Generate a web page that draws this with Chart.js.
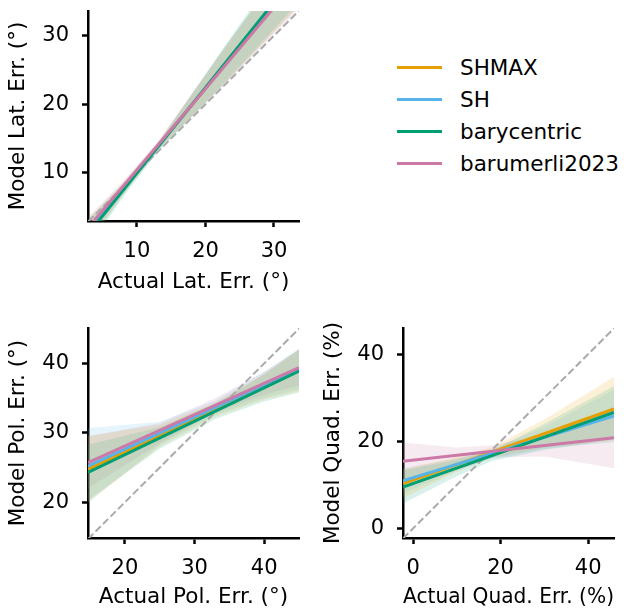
<!DOCTYPE html>
<html>
<head>
<meta charset="utf-8">
<title>Model vs actual localisation error</title>
<script src="https://cdn.jsdelivr.net/npm/chart.js@4.4.0/dist/chart.umd.min.js"></script>
<style>
  body { margin: 0; background: #fff; }
  #wrap { position: relative; width: 624px; height: 608px; overflow: hidden; font-family: "DejaVu Sans", sans-serif; }
  canvas { position: absolute; }
  #legend { position: absolute; left: 397px; top: 51px; }
  .row { display: flex; align-items: center; height: 32px; font-size: 21.5px; color: #000; white-space: nowrap; }
  .swatch { width: 45px; height: 3px; margin-right: 18px; }
</style>
</head>
<body>
<div id="wrap">
  <canvas id="lat" width="310" height="300" style="left:0;top:0"></canvas>
  <canvas id="pol" width="310" height="308" style="left:0;top:300px"></canvas>
  <canvas id="quad" width="314" height="308" style="left:310px;top:300px"></canvas>
  <div id="legend"></div>
</div>
<script>
const seriesNames = ["SHMAX", "SH", "barycentric", "barumerli2023"];
const seriesColors = ["#E69F00", "#56B4E9", "#009E73", "#CC79A7"];
const bandColors = ["rgba(230,159,0,0.15)", "rgba(86,180,233,0.15)", "rgba(0,158,115,0.15)", "rgba(204,121,167,0.15)"];

// lateral error: fitted lines and confidence bands, one row per series
const latLineX = [2.9, 33.7];
const latLineY = [[1.65, 38.8], [1.5, 39.0], [1.1, 39.5], [2.0, 38.5]];
const latBandX = [3, 8, 13, 23, 33.7];
const latBandLow = [
  [-0.1, 6.8, 13.15, 23.2, 34.3],
  [-0.3, 6.7, 13.1, 23.2, 34.5],
  [-0.8, 6.5, 13.0, 23.4, 35.0],
  [0.3, 7.0, 13.3, 23.1, 34.0]
];
const latBandHigh = [
  [3.4, 8.6, 14.35, 28.5, 43.3],
  [3.3, 8.5, 14.3, 28.6, 43.5],
  [3.0, 8.3, 14.2, 28.8, 44.0],
  [3.7, 8.8, 14.5, 28.5, 43.0]
];
const latTicks = [10, 20, 30];

// polar error
const polLineX = [14.7, 45];
const polLineY = [[24.75, 39.0], [25.2, 39.2], [24.3, 38.9], [25.7, 39.4]];
const polBandX = [14.7, 25, 33, 40, 45];
const polBandLow = [
  [20.0, 28.0, 32.3, 34.8, 36.0],
  [19.9, 28.3, 32.6, 35.0, 36.3],
  [20.3, 27.7, 32.0, 34.5, 35.8],
  [22.0, 28.5, 33.0, 35.5, 36.8]
];
const polBandHigh = [
  [29.5, 31.2, 34.4, 38.5, 42.0],
  [30.7, 31.6, 34.7, 38.8, 42.2],
  [28.3, 30.8, 34.2, 38.4, 42.0],
  [29.5, 31.4, 35.0, 38.8, 42.0]
];
const polTicks = [20, 30, 40];

// quadrant error
const quadLineX = [-2.3, 45.9];
const quadLineY = [[10.3, 27.4], [10.9, 25.8], [9.5, 26.6], [15.4, 20.8]];
const quadBandX = [-2.3, 10, 18, 30, 45.9];
const quadBandLow = [
  [7.0, 13.0, 16.3, 18.5, 20.0],
  [8.0, 13.3, 16.0, 18.3, 19.8],
  [5.7, 12.0, 15.5, 18.0, 20.4],
  [11.0, 15.0, 16.3, 16.5, 13.8]
];
const quadBandHigh = [
  [13.6, 16.4, 18.7, 25.0, 34.8],
  [13.8, 16.1, 18.2, 23.3, 31.8],
  [13.3, 15.8, 17.9, 24.0, 32.7],
  [19.7, 18.6, 19.1, 21.5, 27.8]
];
const quadTicks = [0, 20, 40];

const FONT = "DejaVu Sans";

const toPoints = (xs, ys) => xs.map((x, i) => ({ x, y: ys[i] }));

function buildDatasets(lineX, lineY, bandX, bandLow, bandHigh, lo, hi) {
  const sets = [];
  seriesNames.forEach((name, i) => {
    sets.push({
      data: toPoints(bandX, bandLow[i]),
      borderWidth: 0, pointRadius: 0, fill: false, order: 20, clip: 0
    });
    sets.push({
      data: toPoints(bandX, bandHigh[i]),
      borderWidth: 0, pointRadius: 0, fill: sets.length - 1,
      backgroundColor: bandColors[i], order: 20, clip: 0
    });
  });
  // identity line
  sets.push({
    data: [{ x: lo, y: lo }, { x: hi, y: hi }],
    borderColor: "#aaaaaa", borderWidth: 2, borderDash: [7.4, 3.2],
    pointRadius: 0, fill: false, order: 10, clip: 0
  });
  seriesNames.forEach((name, i) => {
    sets.push({
      label: name,
      data: toPoints(lineX, lineY[i]),
      borderColor: seriesColors[i], borderWidth: 3,
      pointRadius: 0, fill: false, order: 4 - i, clip: 0
    });
  });
  return sets;
}

function axis(opts) {
  const horizontal = opts.pos === "bottom";
  return {
    type: "linear",
    position: opts.pos,
    min: opts.min,
    max: opts.max,
    afterBuildTicks: a => { a.ticks = opts.ticks.map(v => ({ value: v })); },
    afterFit: s => {
      if (horizontal) s.height = opts.size; else s.width = opts.size;
      s.paddingLeft = 0; s.paddingRight = 0; s.paddingTop = 0; s.paddingBottom = 0;
    },
    border: { display: true, color: "#000", width: 2.5 },
    grid: { drawOnChartArea: false, drawTicks: true, tickLength: 6, tickWidth: 2.5, tickColor: "#000" },
    ticks: { color: "#000", font: { family: FONT, size: 21 }, padding: horizontal ? 12 : 13, maxRotation: 0, autoSkip: false },
    title: {
      display: true, text: opts.title, color: "#000",
      font: { family: FONT, size: 21.5, lineHeight: 1 },
      padding: horizontal ? { top: 0, bottom: opts.titlePad } : { top: opts.titlePad, bottom: 0 }
    }
  };
}

function makePanel(id, p) {
  return new Chart(document.getElementById(id), {
    type: "line",
    data: { datasets: buildDatasets(p.lineX, p.lineY, p.bandX, p.bandLow, p.bandHigh, p.min, p.max) },
    options: {
      responsive: false,
      animation: false,
      devicePixelRatio: 1,
      layout: { padding: p.padding },
      plugins: { legend: { display: false }, tooltip: { enabled: false } },
      scales: {
        x: axis({ pos: "bottom", min: p.xMin, max: p.xMax, ticks: p.ticks, size: p.xSize, title: p.xTitle, titlePad: p.xTitlePad }),
        y: axis({ pos: "left", min: p.yMin, max: p.yMax, ticks: p.ticks, size: p.ySize, title: p.yTitle, titlePad: p.yTitlePad })
      }
    }
  });
}

makePanel("lat", {
  lineX: latLineX, lineY: latLineY, bandX: latBandX, bandLow: latBandLow, bandHigh: latBandHigh,
  min: 2.9, max: 33.7, xMin: 2.85, xMax: 33.65, yMin: 2.95, yMax: 33.6, ticks: latTicks,
  padding: { left: 0, top: 11, right: 11, bottom: 0 }, xSize: 79, ySize: 88,
  xTitle: "Actual Lat. Err. (°)", yTitle: "Model Lat. Err. (°)", xTitlePad: 7, yTitlePad: 8
});

makePanel("pol", {
  lineX: polLineX, lineY: polLineY, bandX: polBandX, bandLow: polBandLow, bandHigh: polBandHigh,
  min: 14.7, max: 45.1, xMin: 14.7, xMax: 45.0, yMin: 14.85, yMax: 45.1, ticks: polTicks,
  padding: { left: 0, top: 28, right: 11, bottom: 0 }, xSize: 70, ySize: 88,
  xTitle: "Actual Pol. Err. (°)", yTitle: "Model Pol. Err. (°)", xTitlePad: 0, yTitlePad: 8
});

makePanel("quad", {
  lineX: quadLineX, lineY: quadLineY, bandX: quadBandX, bandLow: quadBandLow, bandHigh: quadBandHigh,
  min: -2.3, max: 46, xMin: -2.3, xMax: 45.9, yMin: -2.2, yMax: 46.0, ticks: quadTicks,
  padding: { left: 0, top: 28, right: 10, bottom: 0 }, xSize: 70, ySize: 93,
  xTitle: "Actual Quad. Err. (%)", yTitle: "Model Quad. Err. (%)", xTitlePad: 0, yTitlePad: 13
});

// shared legend
const legend = document.getElementById("legend");
seriesNames.forEach((name, i) => {
  const row = document.createElement("div");
  row.className = "row";
  row.innerHTML = `<span class="swatch" style="background:${seriesColors[i]}"></span><span>${name}</span>`;
  legend.appendChild(row);
});
</script>
</body>
</html>
